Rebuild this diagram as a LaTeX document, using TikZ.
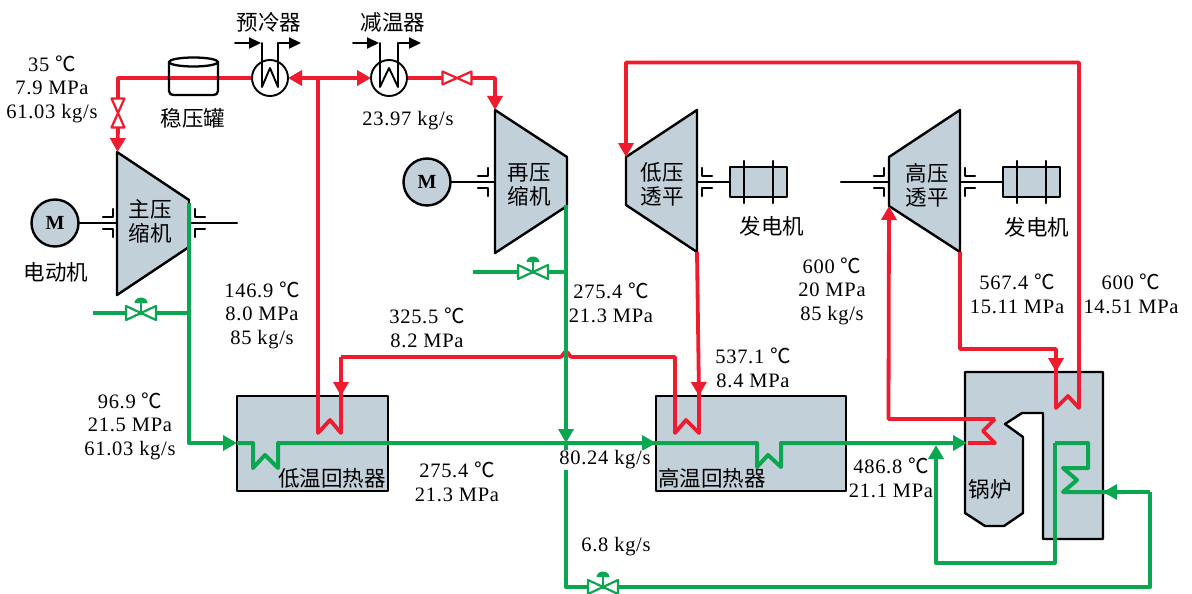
\documentclass[tikz,border=0pt]{standalone}
\usepackage{fontspec}
\setmainfont[LetterSpace=3.5]{Liberation Serif}
\newfontfamily\cjk{Noto Sans CJK SC}
\usetikzlibrary{arrows.meta}
\definecolor{hotred}{HTML}{EE1C2E}
\definecolor{coldgreen}{HTML}{0BA650}
\definecolor{steel}{HTML}{C2D0D9}
\newcommand\dg{{\cjk ℃}}
\newcommand\sealpair[3]{%
  \draw[blk] (#1+#3,#2-6) -- (#1,#2-6) -- (#1,#2-14);
  \draw[blk] (#1+#3,#2+6) -- (#1,#2+6) -- (#1,#2+14);}
\newcommand\genset[2]{%
  \draw[machine] (#1,#2-15) rectangle (#1+57,#2+15);
  \draw[blk] (#1+14,#2-21) -- (#1+14,#2+21);
  \draw[blk] (#1+43,#2-21) -- (#1+43,#2+21);}
\newcommand\redvalveh[2]{\draw[hotline,line width=2.2pt,fill=white] (#1-14.5,#2-6.5) -- (#1+14.5,#2+6.5) -- (#1+14.5,#2-6.5) -- (#1-14.5,#2+6.5) -- cycle;}
\newcommand\redvalvev[2]{\draw[hotline,line width=2.2pt,fill=white] (#1-6.5,#2-14.5) -- (#1+6.5,#2+14.5) -- (#1-6.5,#2+14.5) -- (#1+6.5,#2-14.5) -- cycle;}
\newcommand\greenvalve[2]{%
  \draw[coldline,line width=2.2pt,fill=white] (#1-15,#2-7) -- (#1+15,#2+7) -- (#1+15,#2-7) -- (#1-15,#2+7) -- cycle;
  \draw[coldline,line width=2.2pt] (#1,#2) -- (#1,#2-10);
  \fill[coldgreen] (#1-6.5,#2-10) arc[start angle=180,end angle=360,x radius=6.5,y radius=5.5] -- cycle;}
\tikzset{
  x=1pt,y=-1pt,
  blk/.style={draw=black,line width=2.3pt,line cap=round,line join=round},
  machine/.style={draw=black,fill=steel,line width=2.4pt,line join=round},
  hotline/.style={draw=hotred,line width=3.8pt,line join=round},
  coldline/.style={draw=coldgreen,line width=4pt,line join=round},
  arr/.style={-{Triangle[length=14pt,width=15pt]}},
  lab/.style={align=center,inner sep=0pt,font=\fontsize{20.5}{23.6}\selectfont},
  cn/.style={inner sep=0pt,align=center,font=\cjk\fontsize{21.5}{24}\selectfont},
  mot/.style={circle,draw=black,fill=steel,line width=2.4pt,minimum size=47pt,inner sep=0pt,font=\bfseries\fontsize{20}{20}\selectfont},
}
\begin{document}
\begin{tikzpicture}
\useasboundingbox (0,0) rectangle (1192,594);
% ---- equipment ----
\draw[machine] (237,396) rectangle (388,491);
\draw[machine] (656,396) rectangle (846,491);
\draw[machine] (965,372) -- (1103,372) -- (1103,539) -- (1043,539) -- (1043,413) -- (1022,413) -- (1005,424) -- (1023,437) -- (1023,513) -- (1004,526) -- (985,526) -- (965,513) -- cycle;
\draw[machine] (117,152) -- (189,200) -- (189,247) -- (117,295) -- cycle;
\draw[machine] (495,110) -- (567,157) -- (567,206) -- (495,253) -- cycle;
\draw[machine] (626,157) -- (697,110) -- (697,252) -- (626,205) -- cycle;
\draw[machine] (889,157) -- (960,110) -- (960,252) -- (889,206) -- cycle;
% named ports
\coordinate (mcIn) at (117.5,152);
\coordinate (mcOut) at (189,203);
\coordinate (rcIn) at (495,110);
\coordinate (rcOut) at (566,205);
\coordinate (ltIn) at (626,157);
\coordinate (ltOut) at (697,252);
\coordinate (htIn) at (889,206);
\coordinate (htOut) at (960,252);
\coordinate (ltrIn) at (237,443);
\coordinate (htrIn) at (656,443);
\coordinate (mixA) at (566,443);
\coordinate (blrIn) at (967,443);
\coordinate (preA) at (288,78);
\coordinate (atmA) at (371,78);
\coordinate (split) at (318,78);
% motors, shafts, seals
\node[mot] (m1) at (55,223) {M};
\node[mot] (m2) at (427,182) {M};
\draw[blk] (m1) -- (117,223);
\draw[blk] (189,223) -- (237,223);
\draw[blk] (m2) -- (495,182);
\draw[blk] (697,182) -- (730,182);
\draw[blk] (841,182) -- (889,182);
\draw[blk] (960,182) -- (1003,182);
\sealpair{113}{223}{-10}
\sealpair{195}{223}{10}
\sealpair{488}{182}{-10}
\sealpair{702}{182}{10}
\sealpair{884}{182}{-10}
\sealpair{965}{182}{10}
\genset{730}{182}
\genset{1003}{182}
% ---- red loop ----
\draw[hotline] (218,78) -- (118,78) -- (118,100);
\draw[hotline,arr] (118,126) -- (mcIn);
\draw[hotline] (218,78) -- (252,78);
\draw[hotline,arr] (split) -- (preA);
\draw[hotline,arr] (split) -- (atmA);
\draw[hotline] (407,78) -- (443,78);
\draw[hotline,arr] (471,78) -- (495,78) -- (rcIn);
\draw[hotline,arr] (341,357) -- (341,396);
\draw[hotline] (split) -- (318,433) -- (330,420) -- (341,433) -- (341,390);
\draw[hotline] (341,357) -- (560,357) .. controls (563,357) and (563,352) .. (566,352) .. controls (569,352) and (569,357) .. (572,357) -- (675,357) -- (675,433) -- (686,420) -- (699,433) -- (699,390);
\draw[hotline,arr] (ltOut) -- (699,396);
\draw[hotline,arr] (995,419) -- (888.5,419) -- (htIn);
\draw[hotline] (970,443) -- (995,443) -- (983,431) -- (995,419);
\draw[hotline] (htOut) -- (960,349) -- (1056,349) -- (1056,366);
\draw[hotline,arr] (1056,349) -- (1056,372);
\draw[hotline] (1056,366) -- (1056,408) -- (1068,396) -- (1079,408) -- (1079,62.5) -- (626,62.5) -- (626,140);
\draw[hotline,arr] (626,62.5) -- (ltIn);
% tank
\draw[blk] (169,62) -- (169,91) .. controls (169,94) and (171,95) .. (174,95) -- (213,95) .. controls (216,95) and (218,94) .. (218,91) -- (218,62);
\draw[blk,fill=white] (193.5,62) ellipse[x radius=24.5,y radius=4.5];
% coolers
\foreach \cx/\cl/\cr in {270/262/278,389/380/398}{
  \draw[blk,line width=1.9pt] (\cx,78) circle[radius=18];
  \draw[blk,line width=2pt,-{Triangle[length=12pt,width=11pt]}] (\cl-27,43) -- (\cl-1,43);
  \draw[blk,line width=1.9pt] (\cl,43) -- (\cl,87) -- (\cx,68) -- (\cr,87) -- (\cr,43);
  \draw[blk,line width=2pt,-{Triangle[length=12pt,width=11pt]}] (\cr,43) -- (\cr+23,43);
}
\redvalvev{118}{113}
\redvalveh{457}{78}
% ---- green loop ----
\draw[coldline] (93,313) -- (189,313);
\draw[coldline,arr] (mcOut) -- (189,443) -- (ltrIn);
\draw[coldline] (ltrIn) -- (253,443) -- (253,468) -- (265,455) -- (278,468) -- (278,443) -- (htrIn);
\draw[coldline,arr] (600,443) -- (htrIn);
\draw[coldline,arr] (rcOut) -- (mixA);
\draw[coldline] (mixA) -- (566,587) -- (1150,587) -- (1150,492);
\draw[coldline] (473,272) -- (566,272);
\draw[coldline] (htrIn) -- (757,443) -- (757,467) -- (768,455) -- (781,467) -- (781,443) -- (950,443);
\draw[coldline,arr] (900,443) -- (blrIn);
\draw[hotline] (968,443) -- (975,443);
\draw[coldline,arr] (1055,443) -- (1055,563) -- (936,563) -- (936,445);
\draw[coldline] (1055,443) -- (1088,443) -- (1088,468) -- (1063,468) -- (1077,480) -- (1063,492) -- (1125,492);
\draw[coldline,arr] (1150,492) -- (1103,492);
\greenvalve{141}{313}
\greenvalve{533}{272}
\greenvalve{603}{587}
% ---- labels ----
\node[cn] (tPre) at (269,22) {预冷器};
\node[cn] (tAtt) at (393,22) {减温器};
\node[lab] (t1) at (52,89) {35 \dg\\7.9 MPa\\61.03 kg/s};
\node[cn] (tTank) at (193,118) {稳压罐};
\node[lab] (t2) at (408,121) {23.97 kg/s};
\node[cn] (tMc) at (150,221) {主压\\缩机};
\node[cn] (tRc) at (529,185) {再压\\缩机};
\node[cn] (tLt) at (662,184) {低压\\透平};
\node[cn] (tHt) at (927,185) {高压\\透平};
\node[cn] (tM) at (56,272) {电动机};
\node[cn] (tG1) at (772,226) {发电机};
\node[cn] (tG2) at (1037,227) {发电机};
\node[lab] (t3) at (262,315) {146.9 \dg\\8.0 MPa\\85 kg/s};
\node[lab] (t4) at (427,328) {325.5 \dg\\8.2 MPa};
\node[lab] (t5) at (611,303) {275.4 \dg\\21.3 MPa};
\node[lab] (t6) at (832,291) {600 \dg\\20 MPa\\85 kg/s};
\node[lab] (t7) at (1017,294) {567.4 \dg\\15.11 MPa};
\node[lab] (t8) at (1131,294) {600 \dg\\14.51 MPa};
\node[lab] (t9) at (753,368) {537.1 \dg\\8.4 MPa};
\node[lab] (t10) at (130,426) {96.9 \dg\\21.5 MPa\\61.03 kg/s};
\node[cn] (tLr) at (332,478) {低温回热器};
\node[lab] (t11) at (457,482) {275.4 \dg\\21.3 MPa};
\node[lab,fill=white,inner sep=1pt] (t12) at (605,460) {80.24 kg/s};
\node[cn] (tHr) at (712,478) {高温回热器};
\node[lab] (t13) at (891,478) {486.8 \dg\\21.1 MPa};
\node[cn] (tB) at (990,489) {锅炉};
\node[lab] (t14) at (616,547) {6.8 kg/s};
\end{tikzpicture}
\end{document}
